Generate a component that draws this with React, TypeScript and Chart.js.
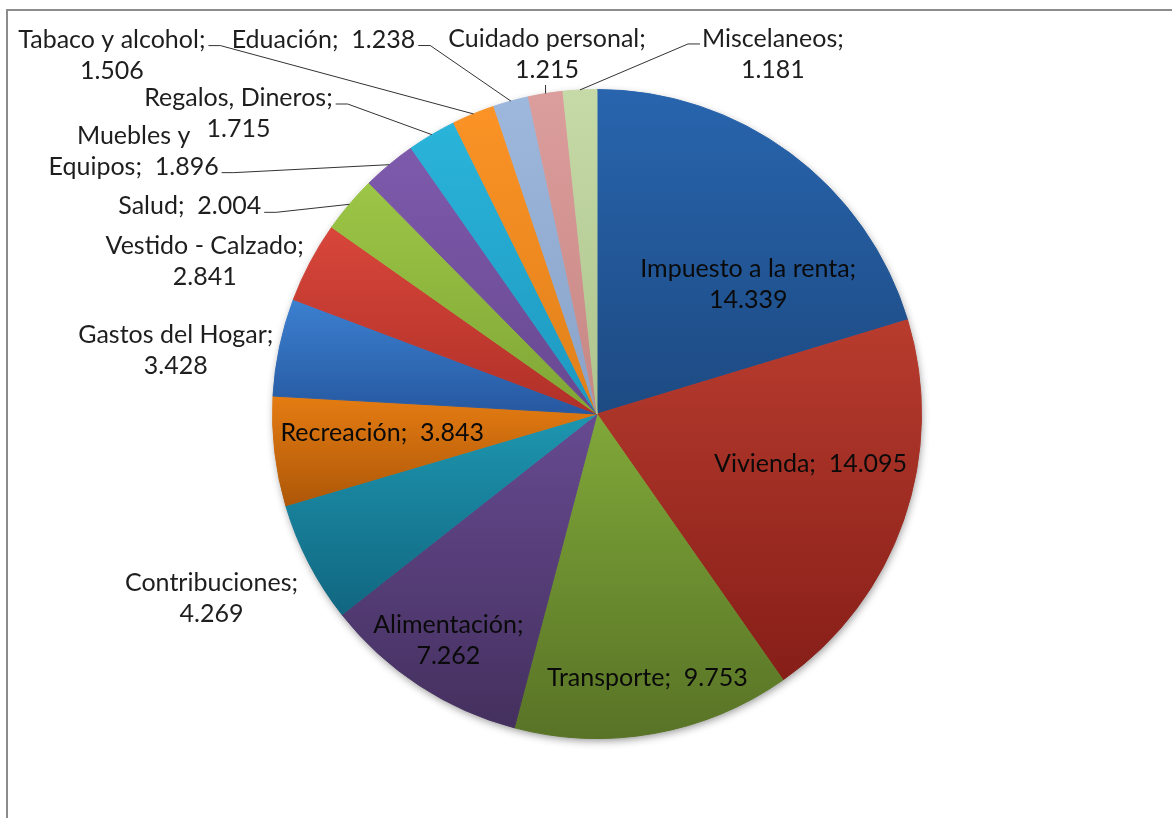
import React, { useEffect, useRef } from "react";
import { Chart, registerables } from "chart.js";

Chart.register(...registerables);

// ---------- data ----------
const CATEGORIES = [
  "Impuesto a la renta",
  "Vivienda",
  "Transporte",
  "Alimentación",
  "Contribuciones",
  "Recreación",
  "Gastos del Hogar",
  "Vestido - Calzado",
  "Salud",
  "Muebles y Equipos",
  "Regalos, Dineros",
  "Tabaco y alcohol",
  "Eduación",
  "Cuidado personal",
  "Miscelaneos",
];

const VALUES = [
  14.339, 14.095, 9.753, 7.262, 4.269, 3.843, 3.428, 2.841, 2.004, 1.896,
  1.715, 1.506, 1.238, 1.215, 1.181,
];

// ---------- styles ----------
const COLORS_TOP = [
  "#2865AE", "#B83C2E", "#80A839", "#674A91", "#1E96B0",
  "#E57C12", "#3C80D0", "#D8463A", "#9CC646", "#7E5AAC",
  "#2AB4DA", "#FB9326", "#9DB8DC", "#DC9E9C", "#C5DAA6",
];
const COLORS_BOTTOM = [
  "#1D4A82", "#861E18", "#587326", "#44305E", "#116680",
  "#AE5708", "#2658A0", "#B03028", "#80A636", "#674890",
  "#1E98C0", "#E0801A", "#8AA2C8", "#C68784", "#AEC48E",
];

// label block centre, offset from pie centre in pie radii
const LABEL_DX = [
  0.466, 0.658, 0.155, -0.458, -1.188, -0.662, -1.298, -1.209, -1.255, -1.428,
  -1.105, -1.495, -0.843, -0.154, 0.542,
];
const LABEL_DY = [
  -0.4, 0.154, 0.812, 0.698, 0.569, 0.057, -0.197, -0.471, -0.64, -0.81,
  -0.926, -1.106, -1.154, -1.108, -1.108,
];
// 0: "name;  value" on one line, -1: name / value, k>0: first k words / rest + value
const LABEL_WRAP = [-1, 0, 0, -1, -1, 0, -1, -1, 0, 2, -1, -1, 0, -1, -1];
const LABEL_LEADER: (string | null)[] = [
  null, null, null, null, null, null, null, null,
  "right", "right", "right", "right", "right", "bottom", "left",
];
const LABEL_LEADER_LINE = [0, 0, 0, 0, 0, 0, 0, 0, 0, 1, 0, 0, 0, 1, 0];

const FONT_FAMILY = "Lato, 'Open Sans', sans-serif";
const FONT_SIZE = 25;
const LINE_H = 31;

function labelLines(i: number): string[] {
  const name = CATEGORIES[i];
  const val = VALUES[i].toFixed(3);
  const wrap = LABEL_WRAP[i];
  if (wrap === 0) return [`${name};  ${val}`];
  if (wrap < 0) return [`${name};`, val];
  const words = name.split(" ");
  return [words.slice(0, wrap).join(" "), `${words.slice(wrap).join(" ")};  ${val}`];
}

const framePlugin = {
  id: "frame",
  beforeDraw(chart: any) {
    const ctx = chart.ctx;
    ctx.save();
    ctx.fillStyle = "#ffffff";
    ctx.fillRect(0, 0, chart.width, chart.height);
    ctx.strokeStyle = "#8c8c8c";
    ctx.lineWidth = 2;
    ctx.strokeRect(7, 10, chart.width + 50, chart.height + 50);
    ctx.restore();
  },
};

const gradientPlugin = {
  id: "sliceGradients",
  beforeDatasetsDraw(chart: any) {
    const ctx = chart.ctx;
    const arcs = chart.getDatasetMeta(0).data;
    if (!arcs.length) return;
    const a0 = arcs[0];
    ctx.save();
    ctx.shadowColor = "rgba(0,0,0,0.45)";
    ctx.shadowBlur = 9;
    ctx.shadowOffsetX = 1;
    ctx.shadowOffsetY = 3;
    ctx.beginPath();
    ctx.arc(a0.x, a0.y, a0.outerRadius - 1, 0, Math.PI * 2);
    ctx.fillStyle = "#ffffff";
    ctx.fill();
    ctx.restore();
    arcs.forEach((arc: any, i: number) => {
      const { x, y, startAngle, endAngle, outerRadius } = arc;
      let minY = y;
      let maxY = y;
      const consider = (ang: number) => {
        const py = y + Math.sin(ang) * outerRadius;
        minY = Math.min(minY, py);
        maxY = Math.max(maxY, py);
      };
      consider(startAngle);
      consider(endAngle);
      for (let k = -2; k <= 4; k++) {
        const ang = (k * Math.PI) / 2;
        if (ang > startAngle && ang < endAngle) consider(ang);
      }
      const g = ctx.createLinearGradient(0, minY, 0, maxY);
      g.addColorStop(0, COLORS_TOP[i]);
      g.addColorStop(1, COLORS_BOTTOM[i]);
      arc.options.backgroundColor = g;
      arc.options.borderColor = g;
    });
  },
};

const labelPlugin = {
  id: "excelLabels",
  afterDatasetsDraw(chart: any) {
    const ctx = chart.ctx;
    const arcs = chart.getDatasetMeta(0).data;
    ctx.save();
    ctx.font = `${FONT_SIZE}px ${FONT_FAMILY}`;
    ctx.textAlign = "center";
    ctx.textBaseline = "middle";
    arcs.forEach((arc: any, i: number) => {
      const { x, y, startAngle, endAngle, outerRadius: R } = arc;
      const lines = labelLines(i);
      const cx = x + LABEL_DX[i] * R;
      const cy = y + LABEL_DY[i] * R;
      const n = lines.length;
      const lineY = (k: number) => cy + (k - (n - 1) / 2) * LINE_H;
      const mid = (startAngle + endAngle) / 2;
      const px = x + Math.cos(mid) * R;
      const py = y + Math.sin(mid) * R;
      const side = LABEL_LEADER[i];
      if (side) {
        const k = LABEL_LEADER_LINE[i];
        const w = ctx.measureText(lines[k]).width;
        ctx.strokeStyle = "#333333";
        ctx.lineWidth = 1;
        ctx.beginPath();
        if (side === "right") {
          const sx = cx + w / 2 + 3;
          const sy = lineY(k) + 6;
          ctx.moveTo(sx, sy);
          ctx.lineTo(sx + 12, sy);
          ctx.lineTo(px, py);
        } else if (side === "left") {
          const sx = cx - w / 2 - 2;
          const sy = lineY(k) + 5;
          ctx.moveTo(sx, sy);
          ctx.lineTo(sx - 12, sy);
          ctx.lineTo(px, py);
        } else {
          const sy = lineY(n - 1) + 15;
          ctx.moveTo(px, sy);
          ctx.lineTo(px, py);
        }
        ctx.stroke();
      }
      ctx.fillStyle = side || Math.abs(LABEL_DX[i]) > 1 ? "#1e1e1e" : "#0a0a0a";
      lines.forEach((t, k) => ctx.fillText(t, cx, lineY(k)));
    });
    ctx.restore();
  },
};

export default function App() {
  const ref = useRef<HTMLCanvasElement>(null);
  useEffect(() => {
    if (!ref.current) return;
    const chart = new Chart(ref.current, {
      type: "pie",
      data: {
        labels: CATEGORIES,
        datasets: [
          {
            data: VALUES,
            backgroundColor: COLORS_TOP,
            borderColor: COLORS_TOP,
            borderWidth: 1,
          },
        ],
      },
      options: {
        responsive: false,
        animation: false,
        events: [],
        layout: { padding: { left: 272, right: 250, top: 89, bottom: 79 } },
        plugins: { legend: { display: false }, tooltip: { enabled: false } },
      },
      plugins: [framePlugin, gradientPlugin, labelPlugin],
    } as any);
    return () => chart.destroy();
  }, []);
  return (
    <div style={{ position: "fixed", left: 0, top: 0, width: 1172, height: 818, background: "#fff" }}>
      <canvas ref={ref} width={1172} height={818} style={{ display: "block" }} />
    </div>
  );
}
